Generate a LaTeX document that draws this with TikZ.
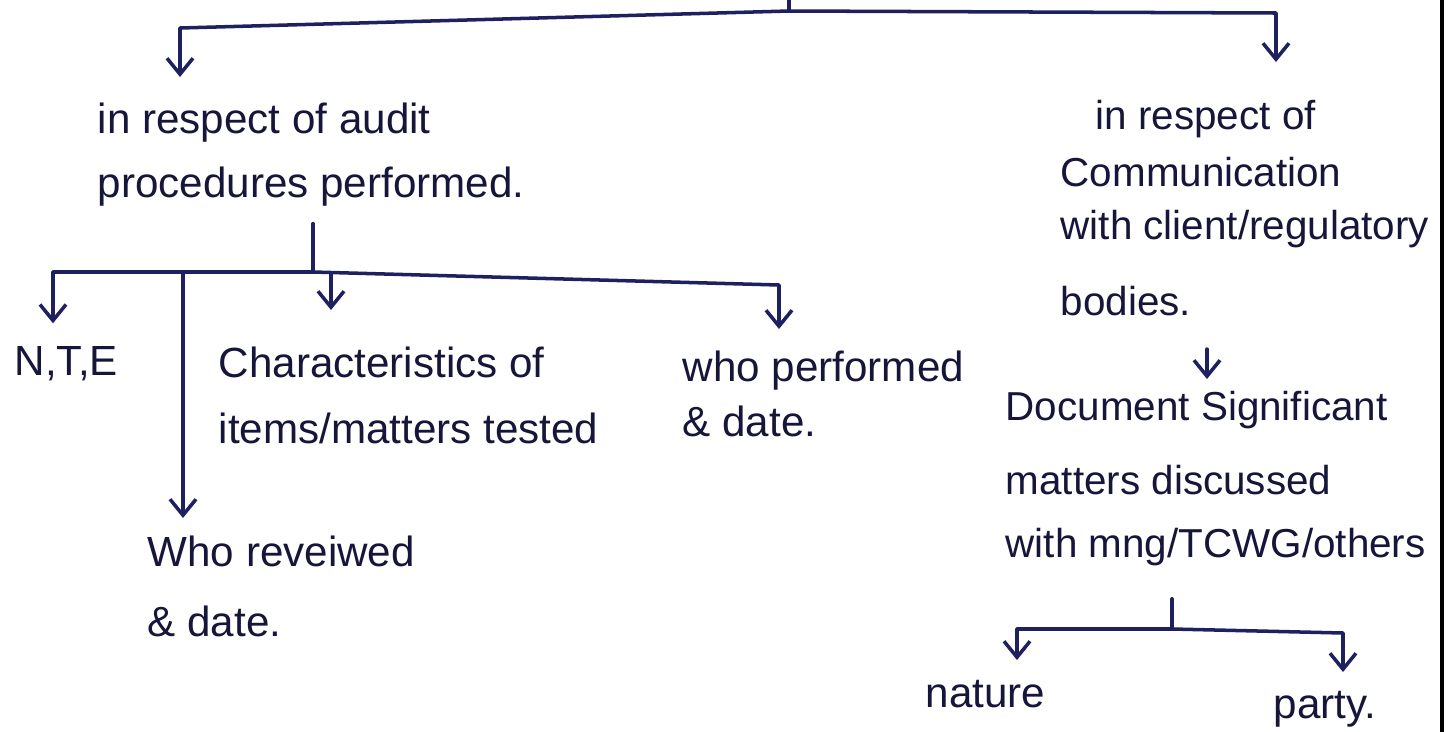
\documentclass[tikz,border=0pt]{standalone}
\usepackage{fontspec}
\setmainfont{Liberation Sans}
\usetikzlibrary{arrows.meta,calc}
\definecolor{ink}{HTML}{1F2060}
\definecolor{txt}{HTML}{16163A}
\begin{document}
\begin{tikzpicture}[x=0.1mm,y=-0.1mm,
  lbl/.style={inner sep=0pt,anchor=north west,align=left,text=txt,font=\fontsize{12}{14}\selectfont},
  lbls/.style={lbl,font=\fontsize{11.5}{14}\selectfont},
  one/.style={lbl,anchor=base west},
  ln/.style={draw=ink,line width=1pt,line cap=round,line join=round},
  arr/.style={ln,-{Straight Barb[length=1.6mm,width=2.6mm,line width=1pt]}},
  edge/.style={draw=black,line width=1.3pt}]
\useasboundingbox (0,0) rectangle (1455,732);
\fill[white] (0,0) rectangle (1455,732);

% text blocks
\node[lbl] (A) at (97,102) {in respect of audit\\[4.2pt]procedures performed.};
\node[lbls] (R) at (1060,99) {\hspace*{3.5mm}in respect of\\[2.5pt]Communication\\[0.8pt]with client/regulatory\\[7.9pt]bodies.};
\node[one] (N) at (14,375) {N,T,E};
\node[lbl] (C) at (218,346) {Characteristics of\\[4.8pt]items/matters tested};
\node[lbl] (W) at (682,350) {who performed\\[1.6pt]\& date.};
\node[lbl] (V) at (147,535) {Who reveiwed\\[5.9pt]\& date.};
\node[lbls] (D) at (1005,391) {Document Significant\\[7pt]matters discussed\\[3.9pt]with mng/TCWG/others};
\node[one] (Na) at (925,707) {nature};
\node[one] (P) at (1273,718) {party.};

% top level
\coordinate (t0) at (789,0);
\coordinate (t1) at (789,11);
\coordinate (tL) at (180,28);
\coordinate (tR) at (1276,13);
\draw[ln] (t0) -- (t1);
\draw[arr] (t1) -- (tL) -- ($(tL |- A.north)+(0,-25)$);
\draw[arr] (t1) -- (tR) -- ($(tR |- R.north)+(0,-37)$);

% audit procedures branch
\coordinate (jA) at (313,272);
\coordinate (bL) at (53,272);
\coordinate (bR) at (779,285);
\coordinate (bC) at (331,273);
\coordinate (bV) at (183,274);
\draw[ln] ($(A.south -| jA)+(0,17)$) -- (jA);
\draw[arr] (jA) -- (bL) -- ($(bL |- N.north)+(0,-22)$);
\draw[arr] (jA) -- (bR) -- ($(bR |- W.north)+(0,-21)$);
\draw[arr] (bC) -- ($(bC |- C.north)+(0,-36)$);
\draw[arr] (bV) -- ($(bV |- V.north)+(0,-17)$);

% communication branch
\coordinate (xRD) at (1207,0);
\draw[arr] ($(R.south -| xRD)+(0,32)$) -- ($(D.north -| xRD)+(0,-12)$);
\coordinate (jD) at (1172,629);
\coordinate (bDL) at (1017,629);
\coordinate (bDR) at (1343,633);
\draw[ln] ($(D.south -| jD)+(0,32)$) -- (jD);
\draw[arr] (jD) -- (bDL) -- ($(bDL |- Na.north)+(0,-19)$);
\draw[arr] (jD) -- (bDR) -- ($(bDR |- P.north)+(0,-18)$);

% page edge
\coordinate (e0) at (1442,0);
\coordinate (e1) at (1442,732);
\draw[edge] (e0) -- (e1);
\end{tikzpicture}
\end{document}
